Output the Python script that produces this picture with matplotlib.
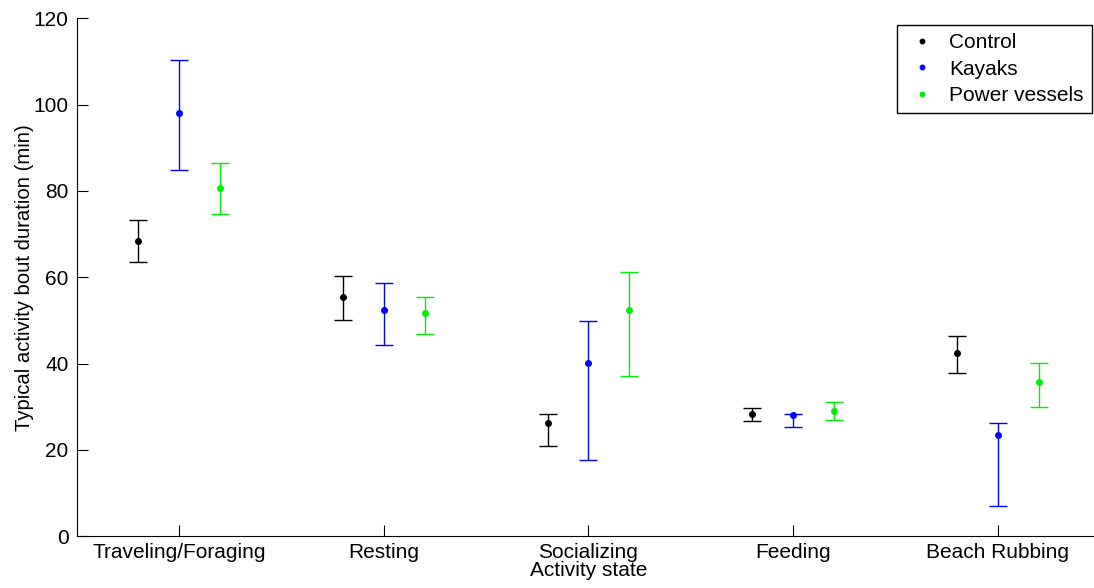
import matplotlib.pyplot as plt
import numpy as np

plt.rcParams['font.family'] = ['Liberation Sans', 'DejaVu Sans']

categories = ['Traveling/Foraging', 'Resting', 'Socializing', 'Feeding', 'Beach Rubbing']
groups = ['Control', 'Kayaks', 'Power vessels']
colors = ['black', 'blue', '#00ee00']

# mean, lower bound, upper bound per group
control_mean = [68.4, 55.4, 26.3, 28.3, 42.5]
control_low = [63.6, 50.0, 20.9, 26.7, 37.8]
control_high = [73.2, 60.3, 28.3, 29.7, 46.3]

kayak_mean = [98.1, 52.5, 40.2, 28.2, 23.4]
kayak_low = [84.9, 44.2, 17.6, 25.4, 7.1]
kayak_high = [110.3, 58.7, 49.8, 28.3, 26.3]

power_mean = [80.7, 51.7, 52.3, 29.0, 35.7]
power_low = [74.6, 46.9, 37.2, 27.0, 30.0]
power_high = [86.5, 55.5, 61.2, 31.0, 40.2]

means = [control_mean, kayak_mean, power_mean]
lows = [control_low, kayak_low, power_low]
highs = [control_high, kayak_high, power_high]
offsets = [-0.2, 0.0, 0.2]

fig = plt.figure(figsize=(10.94, 5.88), dpi=100)
ax = fig.add_axes([0.0704, 0.088, 0.935, 0.881])

x = np.arange(1, len(categories) + 1)
for name, m, lo, hi, off, c in zip(groups, means, lows, highs, offsets, colors):
    m = np.array(m)
    err = [m - np.array(lo), np.array(hi) - m]
    ax.errorbar(x + off, m, yerr=err, fmt='none', ecolor=c, elinewidth=1.0,
                capsize=6.3, capthick=1.0)
    ax.plot(x + off, m, 'o', color=c, markersize=4, label=name, linestyle='none')

ax.set_xlim(0.5, 5.5)
ax.set_ylim(0, 120)
ax.set_yticks(np.arange(0, 121, 20))
ax.set_xticks(x)
ax.set_xticklabels(categories)
ax.spines['top'].set_visible(False)
ax.spines['right'].set_visible(False)
ax.tick_params(direction='in', labelsize=15, length=8, width=0.8)
ax.tick_params(axis='x', pad=5)
ax.tick_params(axis='y', pad=6)
ax.set_xlabel('Activity state', fontsize=15, labelpad=-1)
ax.set_ylabel('Typical activity bout duration (min)', fontsize=14.6, labelpad=0)

leg = ax.legend(loc='upper right', bbox_to_anchor=(0.9985, 0.999), fontsize=15,
                fancybox=False, edgecolor='black', framealpha=1,
                handlelength=1.6, handletextpad=0.5, borderpad=0.4,
                labelspacing=0.35, markerscale=0.8, borderaxespad=0.3)
leg.get_frame().set_linewidth(1.0)

fig.savefig('out.png', dpi=100)
